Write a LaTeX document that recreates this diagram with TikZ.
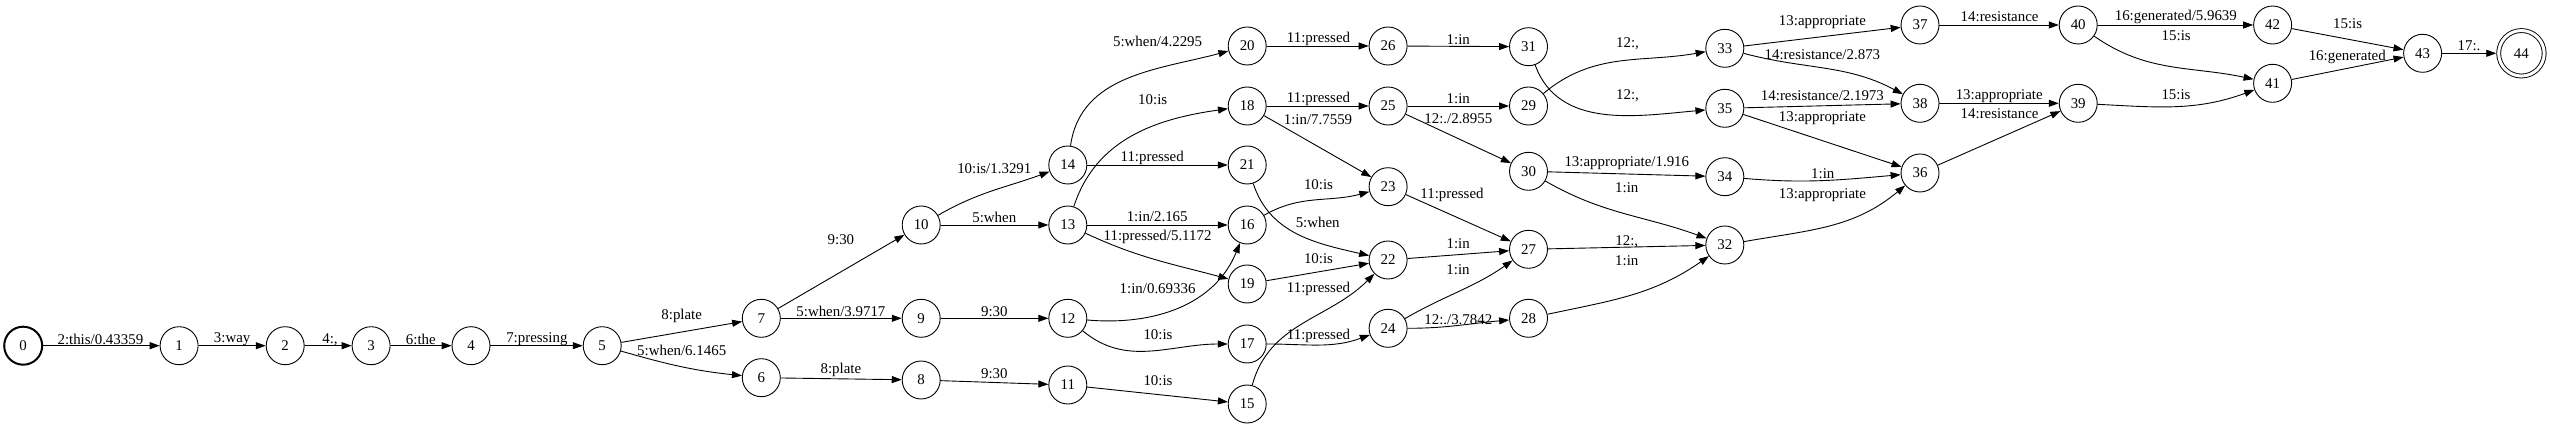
\documentclass[tikz,border=0pt]{standalone}
\usepackage{fontspec}
\setmainfont{Liberation Serif}
\usetikzlibrary{arrows.meta,positioning}

\begin{document}
\begin{tikzpicture}[x=1pt,y=1pt]
    \tikzstyle{every node}=[font=\fontsize{14.9}{17}\selectfont]
    \tikzstyle{fst}=[draw,circle,line width=0.9pt,minimum size=38pt,inner sep=0]
    \tikzstyle{start}=[fst,line width=2pt]
    \tikzstyle{final}=[fst,double,double distance=3pt,minimum size=45.5pt,outer sep=2.4pt]
    \tikzstyle{edg}=[line width=0.9pt,-{Triangle[length=10pt,width=7pt]}]
    \tikzstyle{lbl}=[inner sep=0]
    \useasboundingbox (0,0) rectangle (2550,428);

    % states
    \node[start] (n0) at (23.2,82.3) {0};
    \foreach \n/\x/\y in {1/179.1/82.3, 2/285.2/82.3, 3/371.1/82.3, 4/471.0/82.3, 5/602.2/82.3,
        6/761.3/50.3, 7/761.3/109.7, 8/921.2/48, 9/921.2/109.7, 10/921.2/203,
        11/1067.8/43, 12/1067.8/109.7, 13/1067.8/203, 14/1067.8/263,
        15/1247.2/24, 16/1247.2/203, 17/1247.2/84, 18/1247.2/322, 19/1247.2/144, 20/1247.2/382, 21/1247.2/263,
        22/1388.1/168, 23/1388.1/241.3, 24/1388.1/99.7, 25/1388.1/322, 26/1388.1/382,
        27/1528.5/178.7, 28/1528.5/109.7, 29/1528.5/322, 30/1528.5/256.7, 31/1528.5/381.3,
        32/1724.8/183, 33/1724.8/379.7, 34/1724.8/251.3, 35/1724.8/319.7,
        36/1920/255, 37/1920/403, 38/1920/324.7, 39/2078.2/324.7, 40/2078.2/403,
        41/2272.6/344.7, 42/2272.6/403, 43/2422.6/374.7}
        \node[fst] (n\n) at (\x,\y) {\n};
    \node[final] (n44) at (2521.4,374.7) {44};

    % arcs
    \draw[edg] (n0) -- (n1) node[lbl] at (100.4,88.7) {2:this/0.43359};
    \draw[edg] (n1) -- (n2) node[lbl] at (232.2,88.7) {3:way};
    \draw[edg] (n2) -- (n3) node[lbl] at (330,88.7) {4:,};
    \draw[edg] (n3) -- (n4) node[lbl] at (420.8,88.7) {6:the};
    \draw[edg] (n4) -- (n5) node[lbl] at (536.9,88.7) {7:pressing};
    \draw[edg] (n5) -- (n7) node[lbl] at (681.7,112) {8:plate};
    \draw[edg] (n5) to[out=-16,in=174] (n6) node[lbl] at (681.7,78) {5:when/6.1465};
    \draw[edg] (n7) -- (n10) node[lbl] at (840.9,188) {9:30};
    \draw[edg] (n7) -- (n9) node[lbl] at (840.9,116.3) {5:when/3.9717};
    \draw[edg] (n6) -- (n8) node[lbl] at (840.9,58) {8:plate};
    \draw[edg] (n10) to[out=30,in=200] (n14) node[lbl] at (994.3,259) {10:is/1.3291};
    \draw[edg] (n10) -- (n13) node[lbl] at (994.3,210.3) {5:when};
    \draw[edg] (n9) -- (n12) node[lbl] at (994.3,116.3) {9:30};
    \draw[edg] (n8) -- (n11) node[lbl] at (994.3,54) {9:30};
    \draw[edg] (n14) to[out=82,in=195] (n20) node[lbl] at (1157.6,386.3) {5:when/4.2295};
    \draw[edg] (n14) -- (n21) node[lbl] at (1152.2,269.7) {11:pressed};
    \draw[edg] (n13) to[out=72,in=188] (n18) node[lbl] at (1152.7,328.7) {10:is};
    \draw[edg] (n13) -- (n16) node[lbl] at (1157.2,211.3) {1:in/2.165};
    \draw[edg] (n13) to[out=-25,in=165] (n19) node[lbl] at (1157.6,190.7) {11:pressed/5.1172};
    \draw[edg] (n12) to[out=-5,in=248] (n16) node[lbl] at (1157.6,139.7) {1:in/0.69336};
    \draw[edg] (n12) to[out=-40,in=180] (n17) node[lbl] at (1158,93.7) {10:is};
    \draw[edg] (n11) -- (n15) node[lbl] at (1158,47) {10:is};
    \draw[edg] (n20) -- (n26) node[lbl] at (1318.5,388.7) {11:pressed};
    \draw[edg] (n18) -- (n25) node[lbl] at (1318.5,329.3) {11:pressed};
    \draw[edg] (n18) -- (n23) node[lbl] at (1318,308.7) {1:in/7.7559};
    \draw[edg] (n21) to[out=-72,in=167] (n22) node[lbl] at (1317.7,205.7) {5:when};
    \draw[edg] (n16) to[out=30,in=195] (n23) node[lbl] at (1318.5,243) {10:is};
    \draw[edg] (n19) -- (n22) node[lbl] at (1318.5,169) {10:is};
    \draw[edg] (n15) to[out=75,in=225] (n22) node[lbl] at (1318.5,138.7) {11:pressed};
    \draw[edg] (n17) to[out=0,in=200] (n24) node[lbl] at (1318.5,92.3) {11:pressed};
    \draw[edg] (n26) -- (n31) node[lbl] at (1458.3,388.7) {1:in};
    \draw[edg] (n25) -- (n29) node[lbl] at (1458.3,329.7) {1:in};
    \draw[edg] (n25) -- (n30) node[lbl] at (1458.3,309.7) {12:./2.8955};
    \draw[edg] (n23) -- (n27) node[lbl] at (1452,233) {11:pressed};
    \draw[edg] (n22) -- (n27) node[lbl] at (1458.2,184) {1:in};
    \draw[edg] (n24) to[out=30,in=215] (n27) node[lbl] at (1458,158.7) {1:in};
    \draw[edg] (n24) to[out=0,in=185] (n28) node[lbl] at (1458.3,108) {12:./3.7842};
    \draw[edg] (n29) to[out=40,in=190] (n33) node[lbl] at (1627.5,384.7) {12:,};
    \draw[edg] (n31) to[out=-70,in=185] (n35) node[lbl] at (1627.5,332) {12:,};
    \draw[edg] (n30) -- (n34) node[lbl] at (1626.8,264.7) {13:appropriate/1.916};
    \draw[edg] (n30) to[out=-30,in=160] (n32) node[lbl] at (1626.8,240.7) {1:in};
    \draw[edg] (n27) -- (n32) node[lbl] at (1626.8,186.3) {12:,};
    \draw[edg] (n28) to[out=12,in=215] (n32) node[lbl] at (1626.8,167) {1:in};
    \draw[edg] (n33) -- (n37) node[lbl] at (1822.4,406.3) {13:appropriate};
    \draw[edg] (n33) to[out=-15,in=152] (n38) node[lbl] at (1822.4,373.7) {14:resistance/2.873};
    \draw[edg] (n35) -- (n38) node[lbl] at (1822.4,332.3) {14:resistance/2.1973};
    \draw[edg] (n35) -- (n36) node[lbl] at (1822.4,309.7) {13:appropriate};
    \draw[edg] (n34) to[out=-5,in=185] (n36) node[lbl] at (1822.8,254.7) {1:in};
    \draw[edg] (n32) to[out=10,in=220] (n36) node[lbl] at (1822.4,233) {13:appropriate};
    \draw[edg] (n37) -- (n40) node[lbl] at (1999.6,411.3) {14:resistance};
    \draw[edg] (n38) -- (n39) node[lbl] at (1999.2,332) {13:appropriate};
    \draw[edg] (n36) -- (n39) node[lbl] at (1999.6,314.7) {14:resistance};
    \draw[edg] (n40) -- (n42) node[lbl] at (2175.8,410.7) {16:generated/5.9639};
    \draw[edg] (n40) to[out=-35,in=168] (n41) node[lbl] at (2176.2,392) {15:is};
    \draw[edg] (n39) to[out=-3,in=200] (n41) node[lbl] at (2176,333.7) {15:is};
    \draw[edg] (n42) -- (n43) node[lbl] at (2347.6,404.7) {15:is};
    \draw[edg] (n41) -- (n43) node[lbl] at (2347.2,371.3) {16:generated};
    \draw[edg] (n43) -- (n44) node[lbl] at (2469,382) {17:.};
\end{tikzpicture}
\end{document}
